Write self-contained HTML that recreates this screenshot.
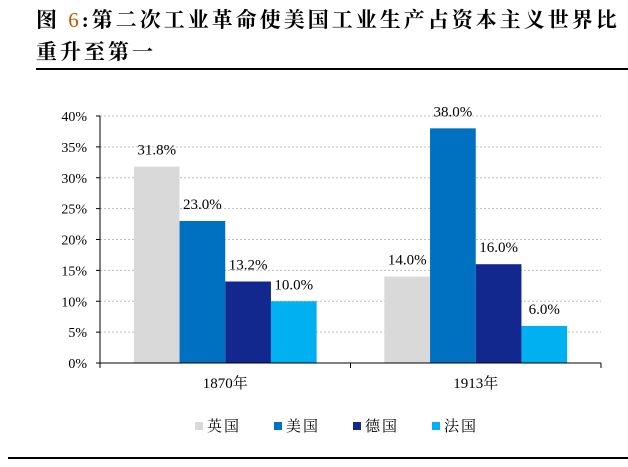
<!DOCTYPE html>
<html><head><meta charset="utf-8"><style>
body{margin:0;background:#fff;width:628px;height:467px;overflow:hidden;font-family:"Liberation Serif","Noto Serif CJK SC",serif}
#title{position:absolute;left:36px;top:4px;font-size:21px;font-weight:bold;line-height:32px;letter-spacing:3px;white-space:nowrap;font-family:"Liberation Serif","Noto Serif CJK SC",serif}
</style></head><body>
<div id="title">图 <span style="color:#c05a00;font-weight:normal">6</span>:第二次工业革命使美国工业生产占资本主义世界比<br>重升至第一</div>
<svg id="c" width="628" height="467" style="position:absolute;left:0;top:0"></svg>
<script>
const categories=["1870年","1913年"];
const seriesNames=["英国","美国","德国","法国"];
const seriesColors=["#d9d9d9","#0070c0","#13288f","#00b0f0"];
const v1870=[31.8,23.0,13.2,10.0];
const v1913=[14.0,38.0,16.0,6.0];
const ticks=[0,5,10,15,20,25,30,35,40];
const ns="http://www.w3.org/2000/svg",svg=document.getElementById('c');
function mk(t,a,txt){const e=document.createElementNS(ns,t);for(const k in a)e.setAttribute(k,a[k]);if(txt!==undefined)e.textContent=txt;svg.appendChild(e);return e;}
const x0=100,x1=601,y0=363,y40=116;
const y=v=>y0-(v/40)*(y0-y40);
const catW=(x1-x0)/categories.length,barW=45.7;
let e=mk('line',{x1:36,y1:69,x2:628,y2:69,stroke:'#000','stroke-width':2});

e=mk('line',{x1:8,y1:458,x2:628,y2:458,stroke:'#000','stroke-width':2});

ticks.forEach(t=>{
 if(t>0){e=mk('line',{x1:x0,y1:y(t),x2:x1,y2:y(t),stroke:'#bfbfbf','stroke-dasharray':'2,2'});
 }
 e=mk('line',{x1:x0-4,y1:y(t),x2:x0,y2:y(t),stroke:'#000'});
 
 e=mk('text',{x:87,y:y(t)+5,'text-anchor':'end','font-size':14,fill:'#000','font-family':'Liberation Serif,serif'},t+'%');
 
});
const data=[v1870,v1913];
categories.forEach((c,ci)=>{
 const cx=x0+catW*ci+catW/2;
 data[ci].forEach((v,si)=>{
  const bx=cx-2*barW+si*barW;
  e=mk('rect',{x:bx,y:y(v),width:barW,height:y0-y(v),fill:seriesColors[si]});
  
  e=mk('text',{x:bx+barW/2,y:y(v)-12,'text-anchor':'middle','font-size':15,fill:'#000','font-family':'Liberation Serif,serif'},v.toFixed(1)+'%');
  
 });
 e=mk('text',{x:cx,y:388,'text-anchor':'middle','font-size':15,fill:'#000'},c);
 
});
e=mk('line',{x1:x0,y1:y40,x2:x0,y2:y0,stroke:'#000'});

e=mk('line',{x1:x0,y1:y0,x2:x1,y2:y0,stroke:'#000'});

[x0,x0+catW,x1].forEach(tx=>{e=mk('line',{x1:tx,y1:y0,x2:tx,y2:y0+5,stroke:'#000'});
 });
const lx=[195,274,353,432];
seriesNames.forEach((n,i)=>{
 e=mk('rect',{x:lx[i],y:422,width:8,height:8,fill:seriesColors[i]});
 
 e=mk('text',{x:lx[i]+12,y:431,'font-size':15,fill:'#000','letter-spacing':2},n);
 
});
</script>
</body></html>
